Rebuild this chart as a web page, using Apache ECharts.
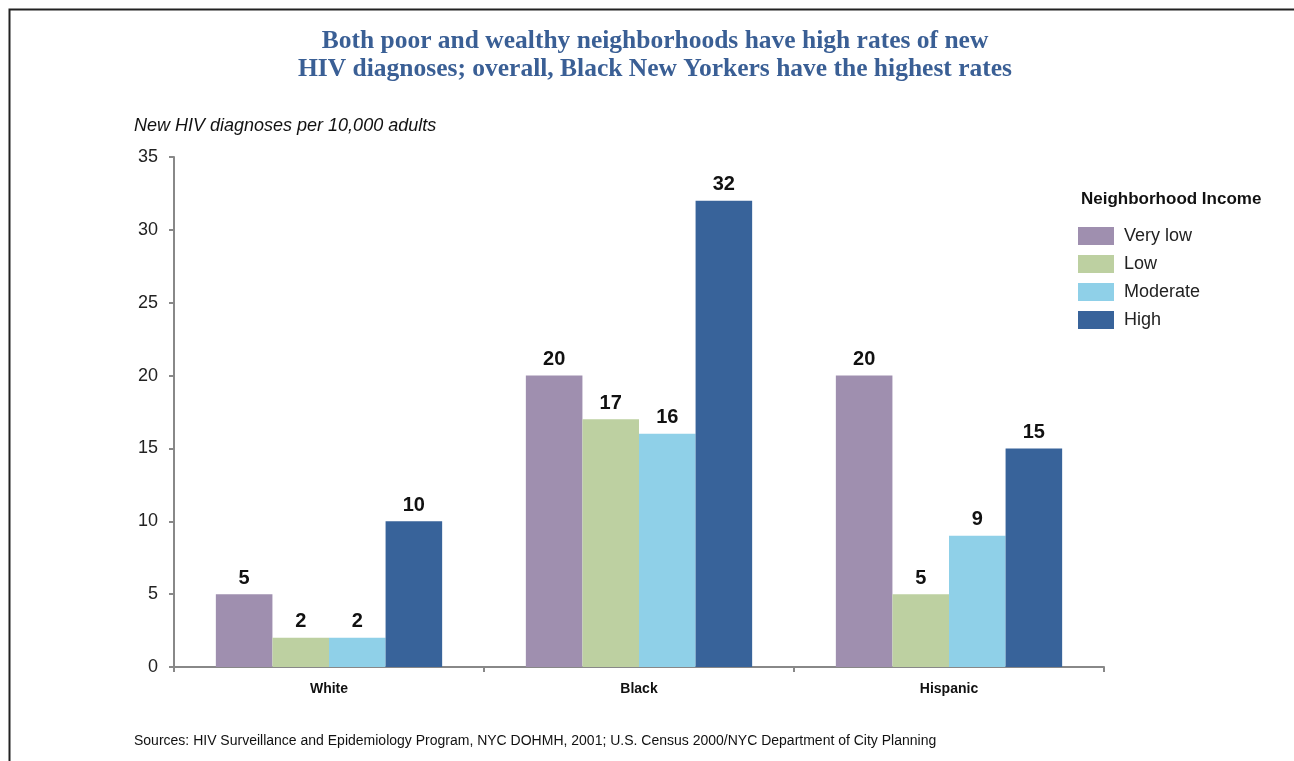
<!DOCTYPE html>
<html>
<head>
<meta charset="utf-8">
<title>New HIV diagnoses by neighborhood income</title>
<script src="https://cdn.jsdelivr.net/npm/echarts@6/dist/echarts.min.js"></script>
<style>
  html, body { margin: 0; padding: 0; background: #fff; }
  #chart { width: 1294px; height: 761px; }
</style>
</head>
<body>
<div id="chart"></div>
<script>
// Groups along the x axis
const groups = ['White', 'Black', 'Hispanic'];

// New HIV diagnoses per 10,000 adults, by neighborhood income level
const veryLow  = [5, 20, 20];
const low      = [2, 17, 5];
const moderate = [2, 16, 9];
const high     = [10, 32, 15];

const seriesNames = ['Very low', 'Low', 'Moderate', 'High'];
const seriesColors = ['#9f8faf', '#bdd0a1', '#8fd0e8', '#38639a'];

const titleLines = [
  'Both poor and wealthy neighborhoods have high rates of new',
  'HIV diagnoses; overall, Black New Yorkers have the highest rates'
];
const yAxisTitle = 'New HIV diagnoses per 10,000 adults';
const legendTitle = 'Neighborhood Income';
const sourceNote = 'Sources: HIV Surveillance and Epidemiology Program, NYC DOHMH, 2001; U.S. Census 2000/NYC Department of City Planning';

const chart = echarts.init(document.getElementById('chart'), null, { renderer: 'canvas' });

const valueSets = [veryLow, low, moderate, high];

const series = valueSets.map((vals, i) => ({
  name: seriesNames[i],
  type: 'bar',
  data: vals,
  barGap: '0%',
  barCategoryGap: '27%',
  itemStyle: { color: seriesColors[i] },
  label: {
    show: true,
    position: 'top',
    distance: 6,
    color: '#111',
    fontFamily: 'Liberation Sans',
    fontWeight: 'bold',
    fontSize: 20
  },
  emphasis: { disabled: true }
}));

chart.setOption({
  animation: false,
  backgroundColor: '#fff',
  title: {
    text: titleLines.join('\n'),
    left: 650,
    top: 22,
    textAlign: 'center',
    textStyle: {
      fontFamily: 'Liberation Serif',
      fontWeight: 'bold',
      fontSize: 25.5,
      lineHeight: 28,
      color: '#3a5f95'
    }
  },
  legend: {
    orient: 'vertical',
    left: 1073,
    top: 222,
    itemWidth: 36,
    itemHeight: 18,
    itemGap: 10,
    icon: 'rect',
    selectedMode: false,
    textStyle: {
      fontFamily: 'Liberation Sans',
      fontSize: 18,
      color: '#222',
      padding: [0, 0, 0, 5]
    },
    data: seriesNames
  },
  grid: {
    left: 174,
    right: 190,
    top: 157,
    bottom: 94,
    containLabel: false
  },
  xAxis: {
    type: 'category',
    data: groups,
    axisLine: { lineStyle: { color: '#888', width: 2 } },
    axisTick: { show: true, alignWithLabel: false, length: 5, inside: false, lineStyle: { color: '#888', width: 2 } },
    axisLabel: {
      margin: 15,
      color: '#111',
      fontFamily: 'Liberation Sans',
      fontWeight: 'bold',
      fontSize: 14
    }
  },
  yAxis: {
    type: 'value',
    min: 0,
    max: 35,
    interval: 5,
    splitLine: { show: false },
    axisLine: { show: true, lineStyle: { color: '#888', width: 2 } },
    axisTick: { show: true, length: 5, lineStyle: { color: '#888', width: 2 } },
    axisLabel: {
      margin: 16,
      color: '#222',
      fontFamily: 'Liberation Sans',
      fontSize: 18
    }
  },
  graphic: [
    {
      type: 'rect',
      silent: true,
      shape: { x: 9.5, y: 9.5, width: 1300, height: 800 },
      style: { fill: 'none', stroke: '#222', lineWidth: 2 }
    },
    {
      type: 'text',
      left: 134,
      top: 117,
      style: {
        text: yAxisTitle,
        font: 'italic 18px "Liberation Sans"',
        fill: '#111'
      }
    },
    {
      type: 'text',
      left: 1081,
      top: 191,
      style: {
        text: legendTitle,
        font: 'bold 17px "Liberation Sans"',
        fill: '#111'
      }
    },
    {
      type: 'text',
      left: 134,
      top: 734,
      style: {
        text: sourceNote,
        font: '14px "Liberation Sans"',
        fill: '#111'
      }
    }
  ],
  series: series
});
</script>
</body>
</html>
